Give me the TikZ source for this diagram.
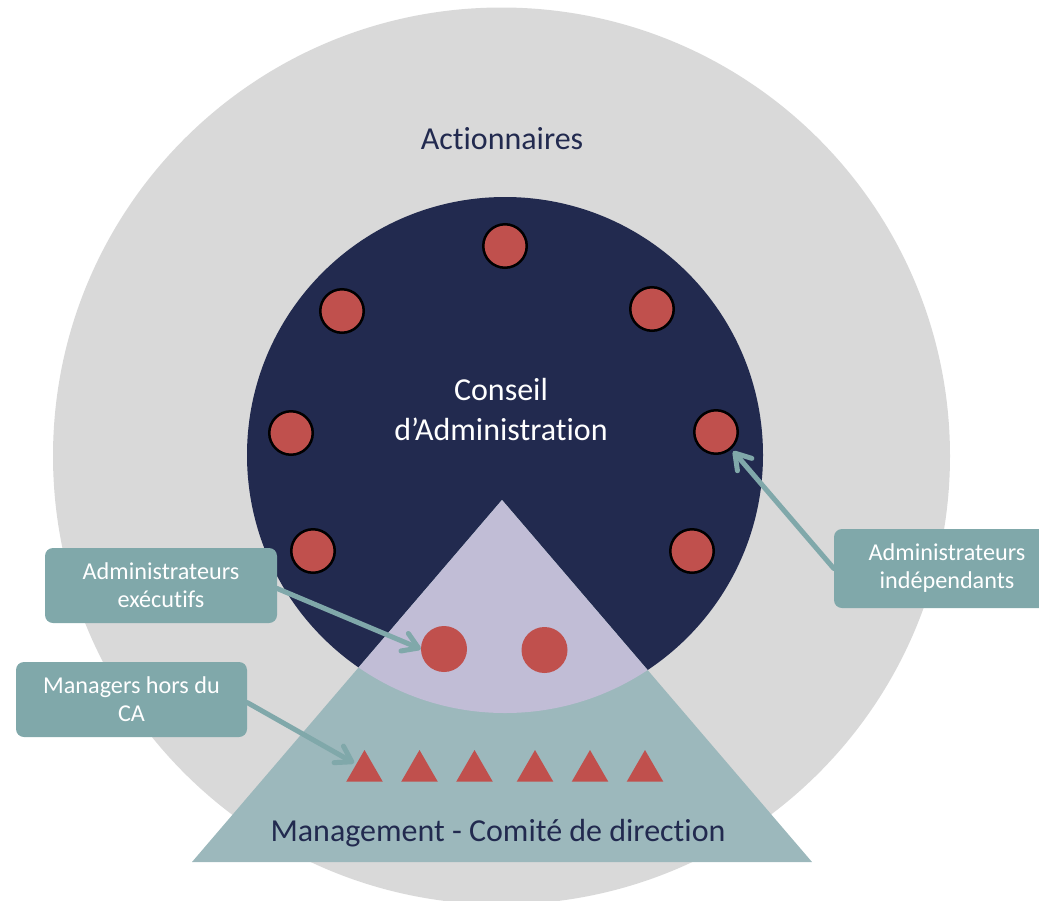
\documentclass[tikz,border=0pt]{standalone}
\usepackage{fontspec}
\setmainfont{Carlito}[Ligatures=NoCommon]
\usetikzlibrary{arrows.meta}
\definecolor{greyc}{HTML}{D9D9D9}
\definecolor{navyc}{HTML}{222A4F}
\definecolor{tealc}{HTML}{9CB8BC}
\definecolor{lavc}{HTML}{C1BDD6}
\definecolor{redc}{HTML}{C0504D}
\definecolor{boxc}{HTML}{80A8AA}
\begin{document}
\begin{tikzpicture}[x=1pt,y=-1pt,
  member/.style={circle,fill=redc,draw=black,line width=2.5pt,minimum size=43.5pt,inner sep=0pt},
  exec/.style={circle,fill=redc,minimum size=46pt,inner sep=0pt},
  label/.style={rounded corners=8pt,fill=boxc,text=white,align=center,inner sep=0pt,
    font=\fontsize{24.2}{28}\selectfont},
  big/.style={font=\fontsize{32}{40}\selectfont,align=center,inner sep=0pt},
  pointer/.style={draw=boxc,line width=5pt,line cap=round,
    -{Straight Barb[round,length=15pt,width=19pt]}}]
\clip (0,0) rectangle (1039,900);
\fill[greyc] (501.5,456) circle[radius=448.5pt];
\fill[navyc] (505,455) circle[radius=258pt];
\fill[tealc] (502,500) -- (812,862) -- (192,862) -- cycle;
\begin{scope}
  \clip (502,500) -- (812,862) -- (192,862) -- cycle;
  \fill[lavc] (505,455) circle[radius=258pt];
\end{scope}
% texts
\node[big,text=navyc] (act) at (502,139) {Actionnaires};
\node[big,text=white] (ca) at (501,410) {Conseil\\d’Administration};
\node[big,text=navyc] (mgt) at (498,833) {Management - Comité de direction};
% board members
\node[member] (m1) at (505,246) {};
\node[member] (m2) at (342,311) {};
\node[member] (m3) at (652,309) {};
\node[member] (m4) at (291,433) {};
\node[member] (m5) at (716,432) {};
\node[member] (m6) at (313,551) {};
\node[member] (m7) at (692,551) {};
% executive members
\node[exec] (e1) at (444,649) {};
\node[exec] (e2) at (544.5,650) {};
% managers
\foreach \x in {364.5,419.5,474.5,535,590,645}{
  \fill[redc] (\x-18.3,781.7) -- (\x+18.3,781.7) -- (\x,750) -- cycle;
}
\coordinate (t1) at (354,763);
% labels
\node[label,minimum width=232pt,minimum height=75pt] (lexec) at (161,585.5) {Administrateurs\\exécutifs};
\node[label,minimum width=231pt,minimum height=75pt] (lmgr) at (131.5,699.5) {Managers hors du\\CA};
\node[label,minimum width=226pt,minimum height=79pt] (lind) at (947,568.5) {Administrateurs\\indépendants};
% arrows
\draw[pointer] ([yshift=-3pt]lexec.east) -- (e1.west);
\draw[pointer] ([yshift=-3pt]lmgr.east) -- (t1);
\draw[pointer] (lind.west) -- ([shift={(1pt,-3pt)}]m5.south east);
\end{tikzpicture}
\end{document}
